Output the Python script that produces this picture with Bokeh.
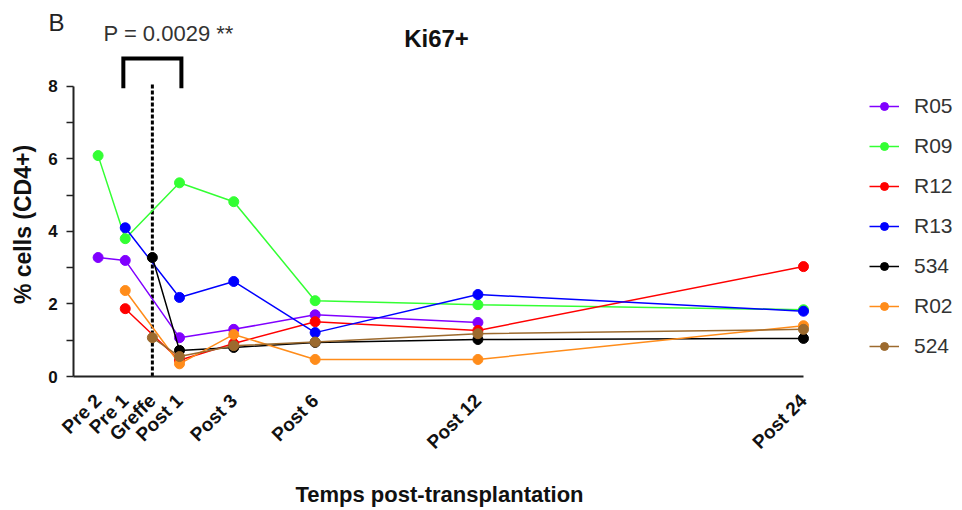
import math
from bokeh.plotting import figure
from bokeh.models import Range1d, FixedTicker, Legend, LegendItem
from bokeh.core.properties import value
from bokeh.embed import file_html
from bokeh.resources import INLINE

# ---- data ----
tick_pos = [-2, -1, 0, 1, 3, 6, 12, 24]
tick_labels = ["Pre 2", "Pre 1", "Greffe", "Post 1", "Post 3", "Post 6", "Post 12", "Post 24"]

series_names = ["R05", "R09", "R12", "R13", "534", "R02", "524"]
series_colors = ["#8000FF", "#33FF33", "#FF0000", "#0000FF", "#000000", "#FF8C1A", "#9C6A2E"]

r05_x = [-2, -1, 1, 3, 6, 12]
r05_y = [3.28, 3.20, 1.07, 1.30, 1.70, 1.49]
r09_x = [-2, -1, 1, 3, 6, 12, 24]
r09_y = [6.09, 3.80, 5.34, 4.82, 2.09, 1.98, 1.84]
r12_x = [-1, 1, 3, 6, 12, 24]
r12_y = [1.87, 0.45, 0.91, 1.51, 1.27, 3.03]
r13_x = [-1, 1, 3, 6, 12, 24]
r13_y = [4.10, 2.18, 2.62, 1.21, 2.26, 1.80]
s534_x = [0, 1, 3, 6, 12, 24]
s534_y = [3.28, 0.72, 0.80, 0.94, 1.02, 1.05]
r02_x = [-1, 1, 3, 6, 12, 24]
r02_y = [2.37, 0.35, 1.16, 0.47, 0.47, 1.40]
s524_x = [0, 1, 3, 6, 12, 24]
s524_y = [1.07, 0.55, 0.85, 0.95, 1.18, 1.30]

series_x = [r05_x, r09_x, r12_x, r13_x, s534_x, r02_x, s524_x]
series_y = [r05_y, r09_y, r12_y, r13_y, s534_y, r02_y, s524_y]

y_ticks = [0, 2, 4, 6, 8]
y_minor = [1, 3, 5, 7]

# significance annotation
p_text = "P = 0.0029 **"
bracket_x = [-1.07, -1.07, 1.07, 1.07]
bracket_y = [7.95, 8.77, 8.77, 7.95]
graft_x = [0, 0]
graft_y = [0, 8.05]

# ---- layout (frame spans the whole canvas; axes are fixed inside it) ----
W, H = 962, 510
PX_X1, PX_PER_X = 179.0, 27.13      # pixel of x=1, pixels per month
PX_Y0, PX_PER_Y = 376.0, 36.27      # pixel of y=0, pixels per unit
x_start = 1 - PX_X1 / PX_PER_X
x_end = x_start + W / PX_PER_X
y_start = -(H - PX_Y0) / PX_PER_Y
y_end = PX_Y0 / PX_PER_Y
x_axis_start = -2.9


def dx(px):
    return x_start + px / PX_PER_X


def dy(py):
    return (PX_Y0 - py) / PX_PER_Y


p = figure(width=W, height=H, output_backend="svg", toolbar_location=None,
           x_range=Range1d(x_start, x_end), y_range=Range1d(y_start, y_end),
           min_border=0, min_border_left=0, min_border_right=0,
           min_border_top=0, min_border_bottom=0)
p.outline_line_color = None
p.grid.visible = False
p.background_fill_color = "white"
p.border_fill_color = "white"

# y axis
ya = p.yaxis[0]
ya.fixed_location = x_axis_start
ya.ticker = FixedTicker(ticks=y_ticks, minor_ticks=y_minor)
ya.bounds = (0, 8)
ya.axis_line_width = 2
ya.axis_line_color = "#222222"
ya.major_tick_line_color = "#222222"
ya.minor_tick_line_color = "#222222"
ya.major_tick_line_width = 1.5
ya.minor_tick_line_width = 1.5
ya.major_tick_out = 7
ya.major_tick_in = 0
ya.minor_tick_out = 7
ya.minor_tick_in = 0
ya.major_label_text_font = "Liberation Sans"
ya.major_label_text_font_style = "bold"
ya.major_label_text_font_size = "17px"
ya.major_label_text_color = "#111111"
ya.major_label_standoff = 9

# x axis
xa = p.xaxis[0]
xa.fixed_location = 0
xa.ticker = FixedTicker(ticks=tick_pos, minor_ticks=[])
xa.major_label_overrides = {t: l for t, l in zip(tick_pos, tick_labels)}
xa.bounds = (x_axis_start, 24)
xa.axis_line_width = 2
xa.axis_line_color = "#222222"
xa.major_tick_line_color = None
xa.minor_tick_line_color = None
xa.major_tick_out = 0
xa.major_label_orientation = math.pi / 4
xa.major_label_text_font = "Liberation Sans"
xa.major_label_text_font_style = "bold"
xa.major_label_text_font_size = "19px"
xa.major_label_text_color = "#111111"
xa.major_label_standoff = 21

# annotation lines
p.line(graft_x, graft_y, line_color="black", line_width=3, line_dash="4 2")
p.line(bracket_x, bracket_y, line_color="black", line_width=4, line_join="miter")

items = []
for name, col, xs, ys in zip(series_names, series_colors, series_x, series_y):
    r1 = p.line(xs, ys, line_color=col, line_width=1.5)
    r2 = p.scatter(xs, ys, marker="circle", size=10, fill_color=col, line_color=col)
    items.append(LegendItem(label=name, renderers=[r1, r2]))

legend = Legend(items=items, location=(869, 152), padding=0, margin=0,
                border_line_color=None, background_fill_alpha=0,
                glyph_width=30, glyph_height=20, label_height=20, spacing=16,
                label_standoff=15, label_text_font="Liberation Sans",
                label_text_font_size="21px", label_text_color="#333333")
p.add_layout(legend)


def txt(text, px, py, size, style="normal", color="#111111", angle=0, align="center"):
    p.text(x=[dx(px)], y=[dy(py)], text=[text], text_font=value("Liberation Sans"),
           text_font_size=value(size), text_font_style=style, text_color=color,
           angle=angle, text_align=align, text_baseline="middle")


txt(p_text, 103, 33, "22px", color="#333333", align="left")
txt("Ki67+", 436, 38, "24px", style="bold")
txt("% cells (CD4+)", 22, 224, "23px", style="bold", angle=math.pi / 2)
txt("Temps post-transplantation", 439, 494, "22px", style="bold")
txt("B", 56, 22, "24px", color="#222222")

open("out.html", "w").write(file_html(p, INLINE))
